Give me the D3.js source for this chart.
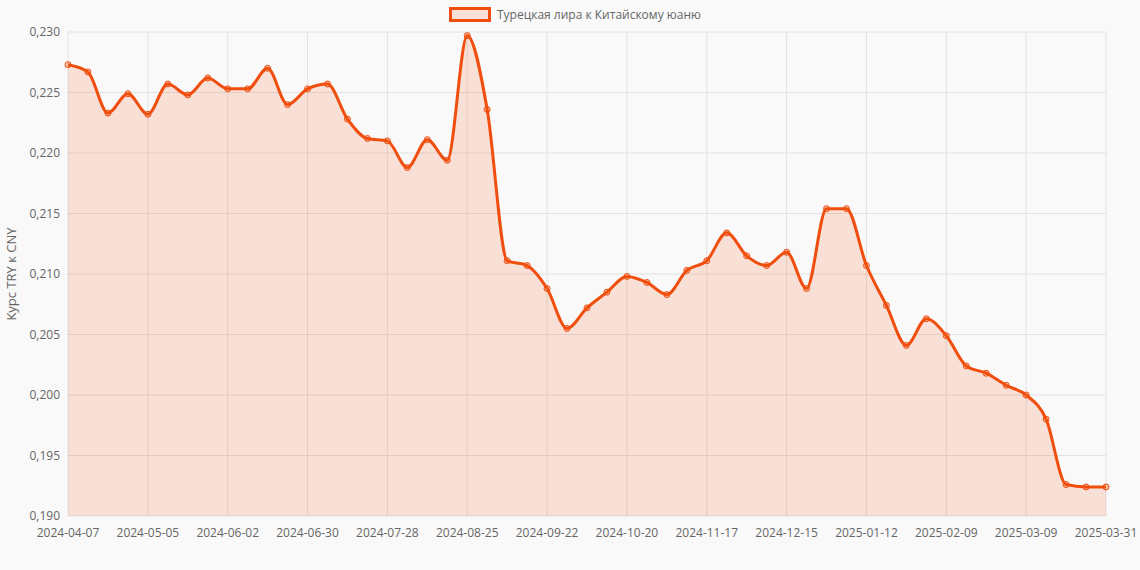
<!DOCTYPE html>
<html><head><meta charset="utf-8">
<script src="https://cdn.jsdelivr.net/npm/d3@7"></script>
<style>body{margin:0;background:#f9f9f9;font-family:"Open Sans",Arial,sans-serif}</style>
</head><body><svg id="c" width="1140" height="570"></svg>
<script>
const seriesName = "Турецкая лира к Китайскому юаню";
const yTitle = "Курс TRY к CNY";
const values = [0.2273,0.2267,0.2233,0.2249,0.2232,0.2257,0.2248,0.2262,0.2253,0.2253,0.2270,0.2240,0.2253,0.2257,0.2228,0.2212,0.2210,0.2188,0.2211,0.2194,0.2297,0.2236,0.2111,0.2107,0.2088,0.2055,0.2072,0.2085,0.2098,0.2093,0.2083,0.2103,0.2111,0.2134,0.2115,0.2107,0.2118,0.2088,0.2154,0.2154,0.2107,0.2074,0.2041,0.2063,0.2049,0.2024,0.2018,0.2008,0.2000,0.1980,0.1926,0.1924,0.1924];
const start = new Date(Date.UTC(2024,3,7));
const fmtD = d3.utcFormat("%Y-%m-%d");
const dates = values.map((v,i)=> i<52 ? fmtD(d3.utcDay.offset(start,7*i)) : "2025-03-31");
const yTicks = [0.190,0.195,0.200,0.205,0.210,0.215,0.220,0.225,0.230];
const labelIdx = [0,4,8,12,16,20,24,28,32,36,40,44,48,52];

const svg = d3.select("#c");
const L=68,R=1106,T=32,B=516;
const x = d3.scalePoint().domain(dates).range([L,R]);
const y = d3.scaleLinear().domain([0.190,0.230]).range([B,T]);
const col="#f04e0e";
const g=svg.append("g");
// grid
g.selectAll(".hy").data(yTicks).join("line").attr("x1",L).attr("x2",R).attr("y1",d=>y(d)).attr("y2",d=>y(d)).attr("stroke","#e2e2e2");
g.selectAll(".vx").data(labelIdx).join("line").attr("x1",i=>x(dates[i])).attr("x2",i=>x(dates[i])).attr("y1",T).attr("y2",B).attr("stroke","#e2e2e2");
// axes text
g.selectAll(".yl").data(yTicks).join("text").attr("x",L-8).attr("y",d=>y(d)+4).attr("text-anchor","end").attr("font-size",12).attr("fill","#666").text(d=>d3.format(".3f")(d).replace(".",","));
g.selectAll(".xl").data(labelIdx).join("text").attr("x",i=>x(dates[i])).attr("y",B+21).attr("text-anchor","middle").attr("font-size",12).attr("fill","#666").text(i=>dates[i]);
svg.append("text").attr("transform",`translate(16,${(T+B)/2}) rotate(-90)`).attr("text-anchor","middle").attr("font-size",13).attr("fill","#666").text(yTitle);
// area & line
svg.append("path").datum(values).attr("fill","rgba(240,78,14,0.15)")
 .attr("d",d3.area().x((d,i)=>x(dates[i])).y0(B).y1(d=>y(d)).curve(d3.curveMonotoneX));
svg.append("path").datum(values).attr("fill","none").attr("stroke",col).attr("stroke-width",3)
 .attr("d",d3.line().x((d,i)=>x(dates[i])).y(d=>y(d)).curve(d3.curveMonotoneX));
svg.selectAll(".pt").data(values).join("circle").attr("cx",(d,i)=>x(dates[i])).attr("cy",d=>y(d)).attr("r",3)
 .attr("fill","rgba(240,78,14,0.3)").attr("stroke",col).attr("stroke-width",1);
// legend
const lg=svg.append("g");
lg.append("rect").attr("x",450.5).attr("y",8.5).attr("width",39).attr("height",12).attr("fill","rgba(240,78,14,0.15)").attr("stroke",col).attr("stroke-width",3);
lg.append("text").attr("x",497).attr("y",19).attr("font-size",12).attr("fill","#666").text(seriesName);
</script></body></html>
